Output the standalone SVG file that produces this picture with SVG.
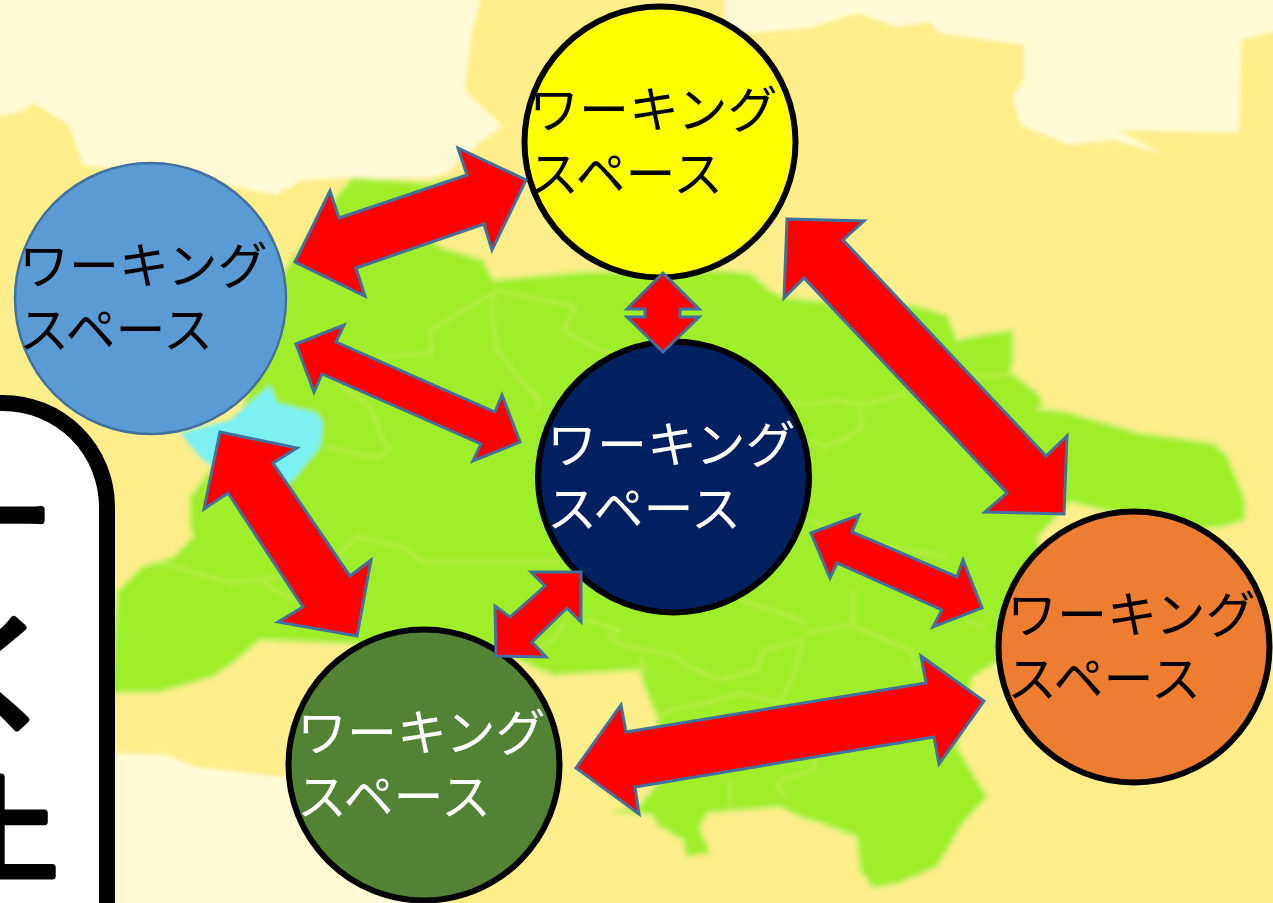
<svg xmlns="http://www.w3.org/2000/svg" width="1273" height="903" viewBox="0 0 1273 903">
<style>
.arrow{fill:#ff0000;stroke:#41719c;stroke-width:3;stroke-linejoin:miter}
.node{stroke:#000;stroke-width:6}
.label{font-family:"Noto Sans CJK JP","Noto Sans",sans-serif;font-size:50px;fill:#000}
.w{fill:#fff}
.border{fill:none;stroke:#bdf04e;stroke-width:2.5;stroke-linejoin:round;stroke-linecap:round}
.big{font-family:"Noto Sans CJK JP",sans-serif;font-weight:400;fill:#000;stroke:#000;stroke-width:7;stroke-linejoin:round;stroke-linecap:round}
</style>
<defs><filter id="soft" x="-5%" y="-5%" width="110%" height="110%"><feGaussianBlur stdDeviation="2"/></filter></defs>
<rect width="1273" height="903" fill="#fcee8a"/>
<g id="map" filter="url(#soft)">
<path fill="#fffad4" d="M-9-9H483L472 33 465 90 503 127 483 140 448 172 431 178 345 178 303 180 276 195 252 190 200 180 83 165 69 125 33 103 20 113-9 117ZM725-9H1282V30L1242 40 1239 133 1118 130 1166 155 1114 140 1069 145 1021 125 1012 97 1024 80 1024 45 938 33 931 22 896 27 858 13 810 28 754 33 725 30ZM115 753 167 755 197 767 283 777 400 800 420 912H115Z"/>
<path fill="#9fee2b" stroke="#d4f06e" stroke-width="3" stroke-linejoin="round" d="M117 593 143 567 173 557 193 537 190 523 190 497 210 470 240 420 270 300 290 262 336 197 352 178 431 183 470 175 480 220 431 240 440 247 483 260 493 280 583 272 717 270 750 273 770 290 783 297 880 308 913 305 947 315 957 340 980 335 1013 330 1013 363 1010 372 1040 395 1043 410 1037 408 1067 412 1140 433 1213 443 1227 455 1245 500 1245 520 1223 527 1190 530 1103 510 1070 502 1058 515 1038 537 1050 600 1000 660 973 677 957 747 987 797 963 823 937 867 900 883 873 888 860 870 857 837 820 823 800 817 780 807 707 813 700 828 710 853 687 857 683 840 657 825 653 815 613 812 640 805 660 780 657 717 643 683 640 670 553 675 540 670 500 650 330 643 260 640 233 663 213 677 160 692 110 693Z"/>
<path fill="#7cf0f0" d="M180 433 200 457 213 467 230 480 290 483 320 447 323 423 317 413 277 403 270 385 230 420Z"/>
<path class="border" d="M493 293 430 330 432 353 380 357M493 293 492 320 497 350 527 387 540 400 537 410M495 290 575 307 563 330 600 350 625 358M337 383 370 407 383 440 390 450 377 458 327 447M340 553 357 537 403 547 423 562 560 562M117 593 143 567 160 563 233 583 277 577M263 583 293 600M740 600 773 610 807 623M807 633 850 625 910 650 917 670M853 590 853 623M803 640 763 650 757 670 720 680 690 667 673 655 623 645 608 637 620 630 587 620M803 640 793 677 780 703 740 693 707 703 670 710 657 718M640 657 647 673M815 757 815 770 780 780 777 787 787 797M730 780 730 807M565 623 553 640 540 647M793 403 807 405 837 400 863 405 907 393M860 410 862 427 843 440 823 447 813 440M973 376 1013 375M810 520 850 540 947 557M970 622 983 627"/>
</g>
<g id="callout">
<rect x="-120" y="403" width="227" height="620" rx="104" fill="#fff" stroke="#000" stroke-width="16"/>
<text class="big" x="-62" y="559" font-size="115">ー</text>
<text class="big" x="-65" y="720" font-size="125">く</text>
<text class="big" x="-57" y="872" font-size="115">上</text>
</g>
<g id="node-yellow"><circle class="node" cx="660" cy="142" r="135.500" fill="#ffff00"/><text class="label" x="529" y="128">ワーキング</text><text class="label" x="529" y="192">スペース</text></g>
<g id="node-blue"><circle cx="150.500" cy="298.500" r="135.500" fill="#5b9bd5" stroke="#41719c" stroke-width="2.500"/><text class="label" x="19" y="284">ワーキング</text><text class="label" x="19" y="348">スペース</text></g>
<g id="node-navy"><circle class="node" cx="673.500" cy="477" r="135.500" fill="#002060"/><text class="label w" x="547" y="463">ワーキング</text><text class="label w" x="547" y="527">スペース</text></g>
<g id="node-orange"><circle class="node" cx="1134" cy="647" r="135.500" fill="#ed7d31"/><text class="label" x="1007" y="633">ワーキング</text><text class="label" x="1007" y="697">スペース</text></g>
<g id="node-green"><circle class="node" cx="424" cy="765" r="135.500" fill="#548235"/><text class="label w" x="297" y="751">ワーキング</text><text class="label w" x="297" y="815">スペース</text></g>
<g id="connectors">
<polygon class="arrow" points="295,262 330,191 339,218 467,175 458,148 526,180 492,250 484,224 356,268 365,296"/>
<polygon class="arrow" points="787,219 864,221 843,240 1046,456 1067,436 1064,514 985,512 1007,493 804,278 784,298"/>
<polygon class="arrow" points="663,273 699,309 680,309 680,317 699,317 663,352 627,317 645,317 645,309 627,309"/>
<polygon class="arrow" points="296,344 344,325 336,342 495,412 502,395 520,442 473,461 481,444 322,374 314,392"/>
<polygon class="arrow" points="220,432 297,448 273,463 350,576 371,560 357,636 278,622 303,607 228,493 204,509"/>
<polygon class="arrow" points="581,572 531,572 545,586 510,617 495,606 496,656 546,657 532,642 567,608 581,622"/>
<polygon class="arrow" points="811,533 859,515 852,532 957,577 963,560 982,608 933,627 942,610 837,563 830,578"/>
<polygon class="arrow" points="576,768 621,705 626,732 926,683 921,656 984,701 939,764 934,737 635,787 639,814"/>
</g>
</svg>
